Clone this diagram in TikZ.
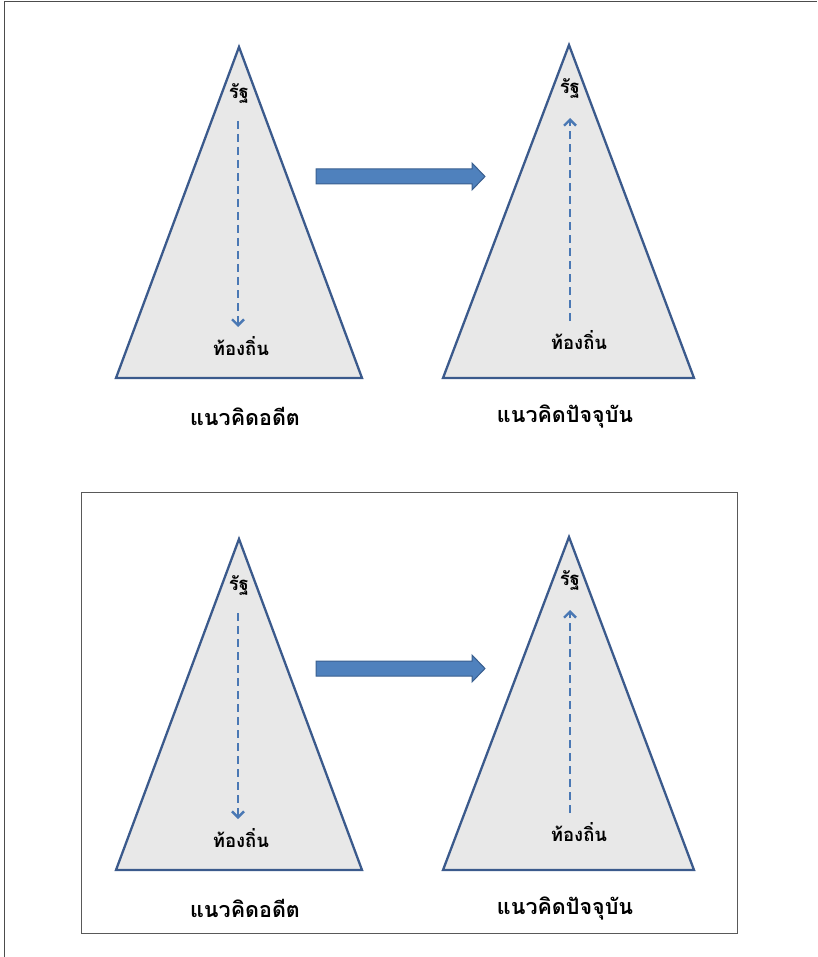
\documentclass[tikz,border=0pt]{standalone}
\usepackage{fontspec}
\newfontfamily\thaifont[Script=Thai]{Loma}
\usetikzlibrary{arrows.meta,shapes.arrows}
\definecolor{triline}{HTML}{3B5A8C}
\definecolor{trifill}{HTML}{E8E8E8}
\definecolor{arrfill}{HTML}{4F81BD}
\definecolor{arrline}{HTML}{3A5F8F}
\definecolor{dashcol}{HTML}{4A78B4}
\tikzset{
  tri/.style={draw=triline,fill=trifill,line width=2.3pt,line join=miter},
  lbl/.style={font=\thaifont\bfseries\fontsize{18.5}{20}\selectfont,inner sep=0pt},
  captxt/.style={font=\thaifont\bfseries\fontsize{21.5}{24}\selectfont,inner sep=0pt},
  dsh/.style={draw=dashcol,line width=2.4pt,dash pattern=on 8pt off 5pt,-{Straight Barb[length=6pt,width=12pt,line width=2.4pt]}},
  bigarrow/.style={draw=arrline,fill=arrfill,line width=1pt},
  frame/.style={draw=black!70,line width=1.2pt}
}
\begin{document}
\begin{tikzpicture}[x=1pt,y=-1pt]
\useasboundingbox (0,0) rectangle (817,957);
\draw[frame] (4.5,957) -- (4.5,1.5) -- (817,1.5);
\node[draw=black!65,line width=1pt,minimum width=656pt,minimum height=441pt,inner sep=0pt,anchor=north west] (box) at (80.5,492) {};
\foreach \dy/\s in {0/a,492/b}{
  \begin{scope}[yshift=-\dy pt]
    \draw[tri] (239,47) coordinate (apexL\s) -- (362,378) -- (116,378) -- cycle;
    \draw[tri] (569,45) coordinate (apexR\s) -- (694,378) -- (443,378) -- cycle;
    \node[lbl] (stL\s) at (239,93) {รัฐ};
    \node[lbl] (loL\s) at (241,346) {ท้องถิ่น};
    \node[lbl] (stR\s) at (570,88) {รัฐ};
    \node[lbl] (loR\s) at (579,340) {ท้องถิ่น};
    \node[captxt] (cL\s) at (245,416) {แนวคิดอดีต};
    \node[captxt] (cR\s) at (565,416) {แนวคิดปัจจุบัน};
    \coordinate (dLs\s) at (238,121);
    \coordinate (dLe\s) at (238,327);
    \coordinate (dRs\s) at (570,321);
    \coordinate (dRe\s) at (570,118);
    \draw[dsh] (dLs\s) -- (dLe\s);
    \draw[dsh] (dRs\s) -- (dRe\s);
    \draw[bigarrow] (316,169) -- (472,169) -- (472,163) -- (485,176.5) -- (472,190) -- (472,184) -- (316,184) -- cycle;
  \end{scope}
}
\end{tikzpicture}
\end{document}
